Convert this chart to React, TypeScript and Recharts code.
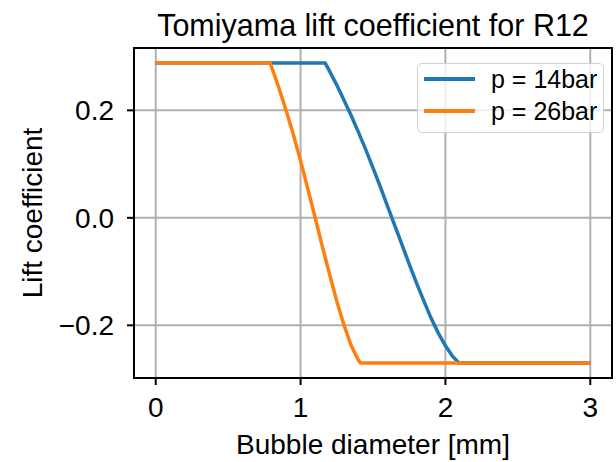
import React from "react";
import {
  LineChart,
  Line,
  XAxis,
  YAxis,
  CartesianGrid,
  Legend,
  ReferenceArea,
  Label,
} from "recharts";

const FONT = "'Liberation Sans', Arial, sans-serif";

// p = 14 bar
const diam14 = [0, 1.17, 1.2, 1.25, 1.3, 1.35, 1.4, 1.45, 1.5, 1.55, 1.6, 1.65, 1.7, 1.75, 1.8, 1.85, 1.9, 1.95, 2.0, 2.05, 2.094, 3];
const lift14 = [0.288, 0.288, 0.273, 0.247, 0.219, 0.19, 0.159, 0.127, 0.093, 0.058, 0.022, -0.014, -0.05, -0.086, -0.121, -0.154, -0.186, -0.214, -0.238, -0.258, -0.27, -0.27];

// p = 26 bar
const diam26 = [0, 0.79, 0.85, 0.9, 0.95, 1.0, 1.05, 1.1, 1.15, 1.2, 1.25, 1.3, 1.35, 1.4, 1.414, 3];
const lift26 = [0.288, 0.288, 0.242, 0.2, 0.155, 0.106, 0.054, 0.001, -0.053, -0.105, -0.155, -0.2, -0.238, -0.265, -0.27, -0.27];

const xTicks = [0, 1, 2, 3];
const yTicks = [-0.2, 0, 0.2];
const xDomain = [-0.15, 3.15];
const yDomain = [-0.298, 0.316];

const data14 = diam14.map((d, i) => ({ d, cl: lift14[i] }));
const data26 = diam26.map((d, i) => ({ d, cl: lift26[i] }));

const fmtY = (v: number) => v.toFixed(1).replace("-", "\u2212");

function LegendBox({ payload }: any) {
  return (
    <div
      style={{
        position: "relative",
        width: 187,
        height: 70,
        boxSizing: "border-box",
        border: "1.5px solid #d0d0d0",
        borderRadius: 5,
        background: "rgba(255,255,255,0.8)",
        fontFamily: FONT,
        fontSize: 25,
        color: "#000",
      }}
    >
      {(payload || []).map((p: any, i: number) => (
        <div
          key={i}
          style={{
            position: "absolute",
            left: 0,
            top: i * 32 - 1,
            height: 32,
            width: "100%",
            display: "flex",
            alignItems: "center",
          }}
        >
          <div style={{ marginLeft: 6, width: 51, height: 3.5, background: p.color }} />
          <span style={{ marginLeft: 16, lineHeight: "25px" }}>{p.value}</span>
        </div>
      ))}
    </div>
  );
}

export default function App() {
  return (
    <div style={{ position: "absolute", left: 0, top: 0, width: 616, height: 462, background: "#fff" }}>
      <div
        style={{
          position: "absolute",
          left: 134,
          width: 478,
          top: 10,
          textAlign: "center",
          fontFamily: FONT,
          fontSize: 30.5,
          lineHeight: "30px",
          color: "#000",
          whiteSpace: "nowrap",
        }}
      >
        Tomiyama lift coefficient for R12
      </div>
      <LineChart width={616} height={462} margin={{ top: 48, right: 4, bottom: 0, left: 0 }}>
        <CartesianGrid stroke="#b0b0b0" strokeWidth={2} />
        <XAxis
          dataKey="d"
          type="number"
          domain={xDomain}
          ticks={xTicks}
          interval={0}
          allowDataOverflow
          height={84}
          axisLine={false}
          tickLine={{ stroke: "#000", strokeWidth: 2 }}
          tickSize={7}
          tickMargin={12}
          tick={{ fill: "#000", fontSize: 28, fontFamily: FONT }}
        >
          <Label
            value="Bubble diameter [mm]"
            position="insideBottom"
            offset={8}
            style={{ fill: "#000", fontSize: 28, fontFamily: FONT }}
          />
        </XAxis>
        <YAxis
          type="number"
          domain={yDomain}
          ticks={yTicks}
          interval={0}
          allowDataOverflow
          width={134}
          axisLine={false}
          tickLine={{ stroke: "#000", strokeWidth: 2 }}
          tickSize={7}
          tickMargin={13}
          tickFormatter={fmtY}
          tick={{ fill: "#000", fontSize: 28, fontFamily: FONT }}
        >
          <Label
            value="Lift coefficient"
            angle={-90}
            position="insideLeft"
            offset={25}
            dx={7}
            style={{ fill: "#000", fontSize: 28, fontFamily: FONT, textAnchor: "middle" }}
          />
        </YAxis>
        <Legend
          layout="vertical"
          align="center"
          verticalAlign="middle"
          wrapperStyle={{ top: 63, left: 417, width: 187 }}
          content={<LegendBox />}
        />
        <Line
          data={data14}
          dataKey="cl"
          name="p = 14bar"
          type="linear"
          stroke="#1f77b4"
          strokeWidth={3.5}
          dot={false}
          isAnimationActive={false}
        />
        <Line
          data={data26}
          dataKey="cl"
          name="p = 26bar"
          type="linear"
          stroke="#ff7f0e"
          strokeWidth={3.5}
          dot={false}
          isAnimationActive={false}
        />
        <ReferenceArea
          x1={xDomain[0]}
          x2={xDomain[1]}
          y1={yDomain[0]}
          y2={yDomain[1]}
          fill="none"
          stroke="#000"
          strokeWidth={2}
          ifOverflow="visible"
        />
      </LineChart>
    </div>
  );
}
